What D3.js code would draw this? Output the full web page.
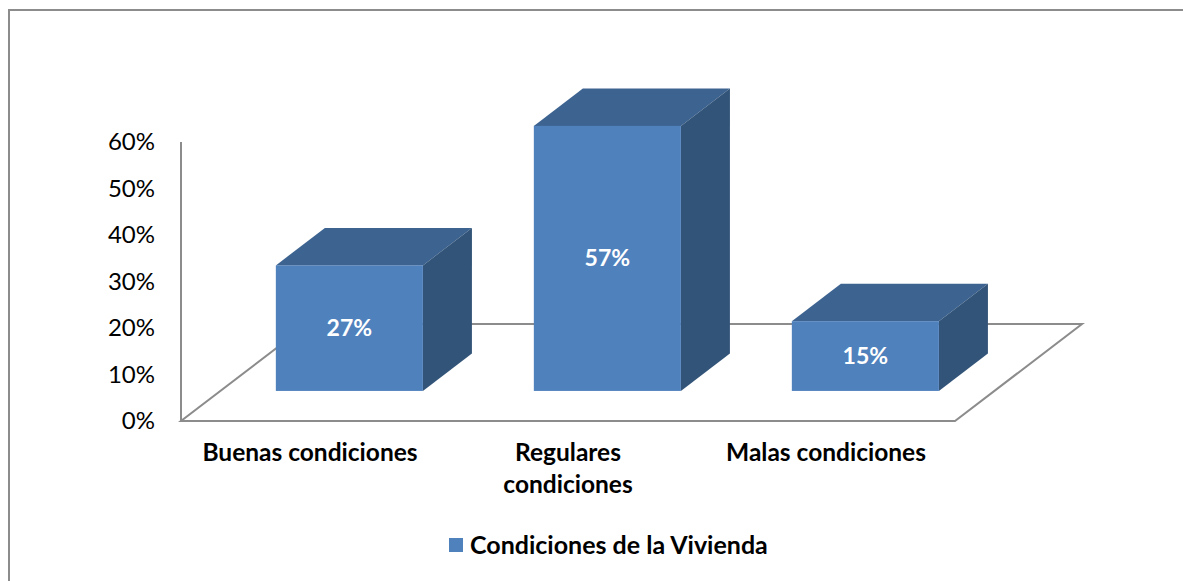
<!DOCTYPE html>
<html>
<head>
<meta charset="utf-8">
<script src="https://cdn.jsdelivr.net/npm/d3@7"></script>
<style>
  body { margin: 0; background: #fff; }
  text { font-family: Lato, "Open Sans", sans-serif; }
</style>
</head>
<body>
<script>
// chart data
var categories = ["Buenas condiciones", "Regulares condiciones", "Malas condiciones"];
var categoryLines = [["Buenas condiciones"], ["Regulares", "condiciones"], ["Malas condiciones"]];
var values = [0.27, 0.57, 0.15];
var tickValues = [0, 0.1, 0.2, 0.3, 0.4, 0.5, 0.6];
var seriesName = "Condiciones de la Vivienda";

window.onload = function(){
    var w = 1183, h = 581;
    var svg = d3.select("body").append("svg")
        .attr("width", w)
        .attr("height", h);

    //outer chart frame (right and bottom run off the picture)
    svg.append("rect")
        .attr("x", 9).attr("y", 10)
        .attr("width", 1200).attr("height", 600)
        .style("fill", "#fff")
        .style("stroke", "#8c8c8c")
        .style("stroke-width", 2);

    //front plane scales
    var x = d3.scaleBand()
        .domain(categories)
        .range([181, 955])
        .paddingInner(0.43)
        .paddingOuter(0.215);
    var xc = d3.scaleBand().domain(categories).range([181, 955]);
    var y = d3.scaleLinear()
        .domain([0, 0.6])
        .range([421, 142]);

    //floor depth and bar depth
    var depth = {dx: 127, dy: -97};
    var barStart = 0.31, barDepth = 0.386;

    //floor outline
    var floor = [
        [181, y(0)],
        [181 + depth.dx, y(0) + depth.dy],
        [955 + depth.dx, y(0) + depth.dy],
        [955, y(0)]
    ];
    svg.append("path")
        .attr("d", "M" + floor[1] + "L" + floor[2] + "L" + floor[3] + "L" + floor[0] + "Z")
        .style("fill", "none")
        .style("stroke", "#8c8c8c")
        .style("stroke-width", 2);

    //vertical axis line
    svg.append("line")
        .attr("x1", 181).attr("x2", 181)
        .attr("y1", y(0.6)).attr("y2", y(0))
        .style("stroke", "#8c8c8c")
        .style("stroke-width", 2);

    //tick labels
    svg.selectAll(".tick")
        .data(tickValues)
        .enter()
        .append("text")
        .attr("class", "tick")
        .attr("x", 155)
        .attr("y", function(d){ return y(d); })
        .attr("dy", "0.35em")
        .attr("text-anchor", "end")
        .style("font-size", "24px")
        .style("fill", "#000")
        .text(d3.format(".0%"));

    //bars (front offset into the depth)
    var ox = depth.dx * barStart, oy = depth.dy * barStart;
    var bx = depth.dx * barDepth, by = depth.dy * barDepth;
    var bars = svg.selectAll(".bar")
        .data(values)
        .enter()
        .append("g")
        .attr("class", "bar")
        .attr("transform", function(d, i){
            return "translate(" + (x(categories[i]) + ox) + "," + oy + ")";
        });
    var bw = x.bandwidth();
    //top face
    bars.append("path")
        .attr("d", function(d){
            var t = y(d);
            return "M0," + t + "L" + bx + "," + (t + by) + "L" + (bw + bx) + "," + (t + by) + "L" + bw + "," + t + "Z";
        })
        .style("fill", "#3d6390");
    //side face
    bars.append("path")
        .attr("d", function(d){
            var t = y(d), b = y(0);
            return "M" + bw + "," + t + "L" + (bw + bx) + "," + (t + by) + "L" + (bw + bx) + "," + (b + by) + "L" + bw + "," + b + "Z";
        })
        .style("fill", "#325479");
    //front face
    bars.append("rect")
        .attr("x", 0)
        .attr("y", function(d){ return y(d); })
        .attr("width", bw)
        .attr("height", function(d){ return y(0) - y(d); })
        .style("fill", "#4f81bd");
    //data labels
    bars.append("text")
        .attr("x", bw / 2)
        .attr("y", function(d){ return (y(d) + y(0)) / 2; })
        .attr("dy", "0.35em")
        .attr("text-anchor", "middle")
        .style("font-size", "23px")
        .style("font-weight", "bold")
        .style("fill", "#fff")
        .text(d3.format(".0%"));

    //category labels
    var labels = svg.selectAll(".cat")
        .data(categoryLines)
        .enter()
        .append("text")
        .attr("class", "cat")
        .attr("text-anchor", "middle")
        .attr("y", 461)
        .style("font-size", "24.5px")
        .style("font-weight", "bold")
        .style("fill", "#000");
    labels.selectAll("tspan")
        .data(function(d, i){
            return d.map(function(s){ return {s: s, i: i}; });
        })
        .enter()
        .append("tspan")
        .attr("x", function(d){ return xc(categories[d.i]) + xc.bandwidth() / 2; })
        .attr("dy", function(d, j){ return j ? 32 : 0; })
        .text(function(d){ return d.s; });

    //legend
    svg.append("rect")
        .attr("x", 449).attr("y", 538)
        .attr("width", 14).attr("height", 14)
        .style("fill", "#4f81bd");
    svg.append("text")
        .attr("x", 470).attr("y", 545)
        .attr("dy", "0.35em")
        .style("font-size", "25px")
        .style("font-weight", "bold")
        .text(seriesName);
};
</script>
</body>
</html>
